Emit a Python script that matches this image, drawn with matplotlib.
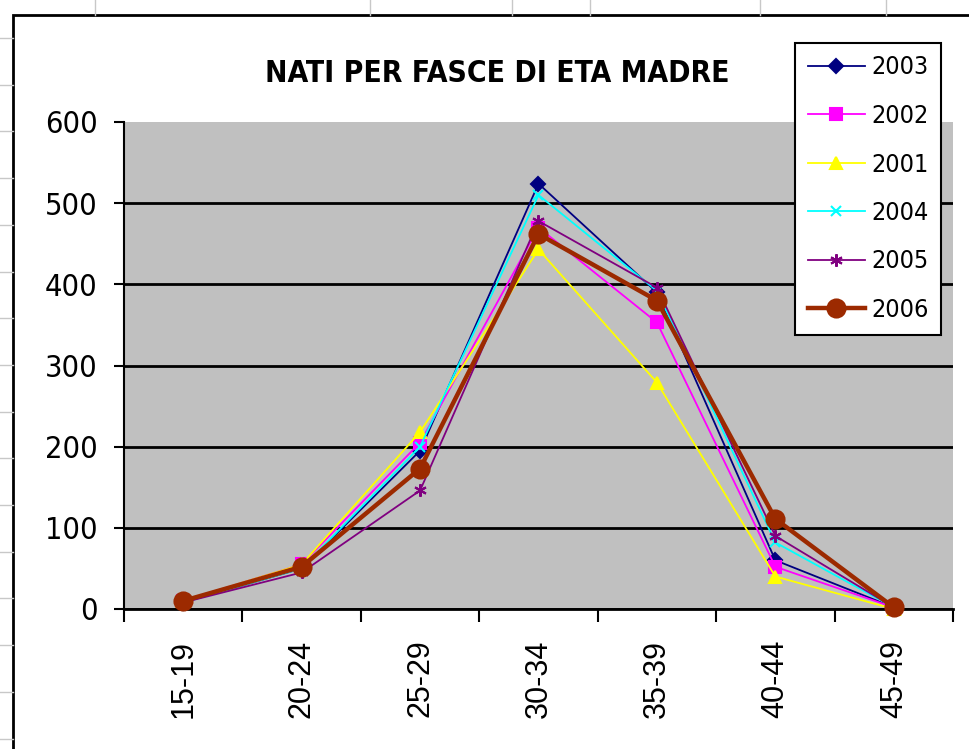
import os
import numpy as np
import matplotlib
matplotlib.use('Agg')
import matplotlib.pyplot as plt
from matplotlib import font_manager
from matplotlib.lines import Line2D
from matplotlib.patches import Rectangle

# dati
fasce = ['15-19', '20-24', '25-29', '30-34', '35-39', '40-44', '45-49']
anni = ['2003', '2002', '2001', '2004', '2005', '2006']
n2003 = [8, 50, 195, 524, 390, 60, 2]
n2002 = [10, 55, 205, 470, 353, 52, 2]
n2001 = [10, 55, 218, 443, 279, 40, 0]
n2004 = [8, 50, 200, 510, 392, 82, 2]
n2005 = [8, 45, 146, 478, 396, 90, 2]
n2006 = [10, 52, 173, 462, 380, 111, 2]
serie = [n2003, n2002, n2001, n2004, n2005, n2006]

colori = ['#000080', '#FF00FF', '#FFFF00', '#00FFFF', '#800080', '#9C2A00']
marker = ['D', 's', '^', 'x', (6, 2, 0), 'o']
msize = [7, 8, 9, 7, 9, 13]
lw = [1.3, 1.3, 1.3, 1.3, 1.3, 3.2]


# cerca un font stretto (tipo Arial Narrow) tra quelli installati, niente corsivi
def cerca_font(nomi):
    files = [f for f in font_manager.findSystemFonts() if 'italic' not in f.lower()]
    for n in nomi:
        for f in files:
            b = os.path.splitext(os.path.basename(f))[0].lower()
            if b == n.lower():
                return font_manager.FontProperties(fname=f)
    return None


fp_narrow = cerca_font(['LiberationSansNarrow-Regular', 'NotoSans-Condensed',
                        'DejaVuSansCondensed', 'LiberationSans-Regular'])
fp_title = cerca_font(['LiberationSansNarrow-Bold', 'NotoSans-ExtraCondensedBold',
                       'NotoSans-CondensedBold', 'DejaVuSansCondensed-Bold', 'LiberationSans-Bold'])
fp_reg = cerca_font(['LiberationSans-Regular'])
if fp_narrow is None:
    fp_narrow = font_manager.FontProperties(family='DejaVu Sans')
if fp_title is None:
    fp_title = font_manager.FontProperties(family='DejaVu Sans', weight='bold')
if fp_reg is None:
    fp_reg = font_manager.FontProperties(family='DejaVu Sans')

W, H = 969, 749
fig = plt.figure(figsize=(W / 100, H / 100), dpi=100)
fig.patch.set_facecolor('white')

# righe e colonne del foglio excel dietro il grafico
for xc in [95, 370, 512, 590, 760, 886]:
    fig.add_artist(Line2D([xc / W, xc / W], [1, 1 - 15 / H], color='#c8c8c8', lw=1))
for yr in np.arange(38, H, 46.7):
    fig.add_artist(Line2D([0, 13 / W], [1 - yr / H, 1 - yr / H], color='#c8c8c8', lw=1))
# bordo area grafico
fig.add_artist(Rectangle((13 / W, -0.05), 1.2, 1 - 15 / H + 0.05, transform=fig.transFigure,
                         facecolor='white', edgecolor='black', lw=2, zorder=0))

ax = fig.add_axes([124 / W, 1 - 609 / H, 829 / W, 487 / H])
ax.set_facecolor('#C0C0C0')
x = np.arange(len(fasce))
for i in range(len(anni)):
    ax.plot(x, serie[i], color=colori[i], marker=marker[i], markersize=msize[i],
            lw=lw[i], mew=1.5, label=anni[i], clip_on=False, zorder=3 + i)

ax.set_xlim(-0.5, len(fasce) - 0.5)
ax.set_ylim(0, 600)
ax.set_yticks(np.arange(0, 601, 100))
ax.set_yticklabels([str(v) for v in range(0, 601, 100)])
for t in ax.get_yticklabels():
    t.set_fontproperties(fp_narrow)
    t.set_fontsize(22)
ax.yaxis.grid(True, color='black', lw=2)
ax.get_ygridlines()[-1].set_visible(False)
ax.set_axisbelow(True)

ax.set_xticks(np.arange(-0.5, len(fasce)), labels=[])
ax.set_xticks(x, minor=True)
ax.set_xticklabels(fasce, minor=True, rotation=90)
for t in ax.get_xticklabels(minor=True):
    t.set_fontproperties(fp_reg)
    t.set_fontsize(22)
ax.tick_params(axis='x', which='major', length=9, width=1.5, direction='out')
ax.tick_params(axis='x', which='minor', length=0, pad=22)
ax.tick_params(axis='y', length=7, width=1.5, direction='out', pad=12)

for s in ['top', 'right']:
    ax.spines[s].set_visible(False)
ax.spines['left'].set_linewidth(1.5)
ax.spines['bottom'].set_linewidth(2)

tit = fig.text(497 / W, 1 - 73 / H, 'NATI PER FASCE DI ETA MADRE', ha='center', va='center')
tit.set_fontproperties(fp_title)
tit.set_fontsize(29)
# adatta la dimensione del titolo alla larghezza dell'originale (~465 px)
r = fig.canvas.get_renderer()
larg = tit.get_window_extent(renderer=r).width
tit.set_fontsize(min(29, 29 * 465 / larg))

prop_leg = fp_narrow.copy()
prop_leg.set_size(18)
leg = fig.legend(loc='upper left', bbox_to_anchor=(795 / W, 1 - 43 / H),
                 prop=prop_leg, frameon=True, fancybox=False, framealpha=1,
                 handlelength=2.3, handletextpad=0.25, labelspacing=0.98,
                 borderpad=0.5, borderaxespad=0)
leg.get_frame().set_edgecolor('black')
leg.get_frame().set_linewidth(1.5)
leg.set_zorder(20)

fig.savefig('out.png', dpi=100)
